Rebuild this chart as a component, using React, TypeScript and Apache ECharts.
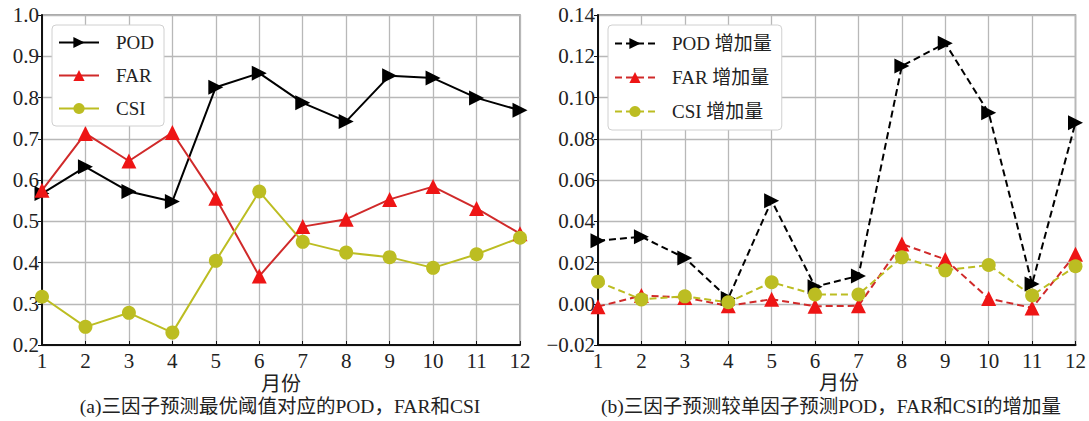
import React, { useEffect, useRef } from "react";
import * as echarts from "echarts";

const months = [1, 2, 3, 4, 5, 6, 7, 8, 9, 10, 11, 12];

const podA = [0.567, 0.632, 0.572, 0.548, 0.825, 0.859, 0.787, 0.742, 0.853, 0.847, 0.799, 0.769];
const farA = [0.575, 0.713, 0.646, 0.715, 0.556, 0.367, 0.487, 0.505, 0.553, 0.584, 0.531, 0.470];
const csiA = [0.317, 0.244, 0.278, 0.230, 0.404, 0.572, 0.450, 0.424, 0.413, 0.387, 0.420, 0.460];

const podB = [0.0306, 0.0325, 0.0222, 0.0026, 0.0500, 0.0083, 0.0135, 0.1153, 0.1263, 0.0926, 0.0096, 0.0878];
const farB = [-0.0014, 0.0040, 0.0030, -0.0010, 0.0022, -0.0012, -0.0010, 0.0290, 0.0215, 0.0025, -0.0020, 0.0240];
const csiB = [0.0107, 0.0021, 0.0036, 0.0007, 0.0104, 0.0045, 0.0045, 0.0225, 0.0162, 0.0188, 0.0040, 0.0182];

const namesA = ["POD", "FAR", "CSI"];
const namesB = ["POD 增加量", "FAR 增加量", "CSI 增加量"];

const yTicksA = { min: 0.2, max: 1.0, interval: 0.1, digits: 1 };
const yTicksB = { min: -0.02, max: 0.14, interval: 0.02, digits: 2 };

const xLabel = "月份";
const captionA = "(a)三因子预测最优阈值对应的POD，FAR和CSI";
const captionB = "(b)三因子预测较单因子预测POD，FAR和CSI的增加量";

const FONT = "'Liberation Serif', 'Noto Sans CJK SC', serif";
const BLACK = "#000000";
const RED_LINE = "#d02a2a";
const RED_MARK = "#ee1515";
const OLIVE = "#bcbd22";

const pairs = (vals: number[]) => vals.map((v, i) => [months[i], v]);

export default function App() {
  const ref = useRef<HTMLDivElement>(null);
  useEffect(() => {
    if (!ref.current) return;
    const chart = echarts.init(ref.current, null, { renderer: "svg" });

    const grids = [
      { left: 42, top: 15, width: 478, height: 330 },
      { left: 598, top: 15, width: 479, height: 330 },
    ];

    const mkX = (gi: number) => ({
      type: "value",
      gridIndex: gi,
      min: 1,
      max: 12,
      interval: 1,
      axisLine: { show: true, onZero: false, lineStyle: { color: "#111", width: 2 } },
      axisTick: { show: true, inside: true, length: 4, lineStyle: { color: "#111", width: 1 } },
      axisLabel: { color: "#222", fontSize: 21, fontFamily: FONT, margin: 5 },
      splitLine: { show: true, lineStyle: { color: "#b8b8b8", width: 1.3 } },
    });
    const mkY = (gi: number, t: typeof yTicksA) => ({
      type: "value",
      gridIndex: gi,
      min: t.min,
      max: t.max,
      interval: t.interval,
      axisLine: { show: true, onZero: false, lineStyle: { color: "#111", width: 2 } },
      axisTick: { show: true, inside: false, length: 4, lineStyle: { color: "#111", width: 1 } },
      axisLabel: {
        color: "#222",
        fontSize: 21,
        fontFamily: FONT,
        margin: 3,
        formatter: (v: number) => (v < 0 ? "−" : "") + Math.abs(v).toFixed(t.digits),
      },
      splitLine: { show: true, lineStyle: { color: "#b8b8b8", width: 1.3 } },
    });

    const mkSeries = (
      name: string,
      gi: number,
      vals: number[],
      lineColor: string,
      markColor: string,
      symbol: string,
      rotate: number,
      size: number,
      dashed: boolean
    ) => ({
      type: "line",
      name,
      xAxisIndex: gi,
      yAxisIndex: gi,
      data: pairs(vals),
      symbol,
      symbolRotate: rotate,
      symbolSize: size,
      showAllSymbol: true,
      lineStyle: { color: lineColor, width: 2, type: dashed ? [7, 4] : "solid" },
      itemStyle: { color: markColor, borderColor: markColor, borderWidth: 0 },
      z: 3,
    });

    const legendBase = {
      orient: "vertical",
      itemWidth: 40,
      itemHeight: 14,
      itemGap: 14,
      backgroundColor: "#ffffff",
      borderColor: "#d0d0d0",
      borderWidth: 1,
      borderRadius: 4,
      textStyle: { fontSize: 19, fontFamily: FONT, color: "#222", padding: [0, 0, 0, 12] },
    };

    chart.setOption({
      animation: false,
      backgroundColor: "#ffffff",
      grid: grids.map((g) => ({ ...g, show: true, borderColor: "#8a8a8a", borderWidth: 1.5, backgroundColor: "transparent" })),
      xAxis: [mkX(0), mkX(1)],
      yAxis: [mkY(0, yTicksA), mkY(1, yTicksB)],
      legend: [
        { ...legendBase, data: namesA, left: 52, top: 25, padding: [8, 10, 8, 6] },
        { ...legendBase, data: namesB, left: 608, top: 25, padding: [9, 10, 9, 6], itemGap: 15 },
      ],
      series: [
        mkSeries(namesA[0], 0, podA, BLACK, BLACK, "triangle", -90, 15, false),
        mkSeries(namesA[1], 0, farA, RED_LINE, RED_MARK, "triangle", 0, 15, false),
        mkSeries(namesA[2], 0, csiA, OLIVE, OLIVE, "circle", 0, 14, false),
        mkSeries(namesB[0], 1, podB, BLACK, BLACK, "triangle", -90, 15, true),
        mkSeries(namesB[1], 1, farB, RED_LINE, RED_MARK, "triangle", 0, 15, true),
        mkSeries(namesB[2], 1, csiB, OLIVE, OLIVE, "circle", 0, 14, true),
      ],
      graphic: [
        { type: "text", x: 281, y: 384, style: { text: xLabel, fontSize: 20, fontFamily: FONT, fill: "#222", align: "center", verticalAlign: "middle" } },
        { type: "text", x: 839, y: 383, style: { text: xLabel, fontSize: 20, fontFamily: FONT, fill: "#222", align: "center", verticalAlign: "middle" } },
        { type: "text", x: 280, y: 406, style: { text: captionA, fontSize: 19.5, fontFamily: FONT, fill: "#222", align: "center", verticalAlign: "middle" } },
        { type: "text", x: 831, y: 406, style: { text: captionB, fontSize: 19.5, fontFamily: FONT, fill: "#222", align: "center", verticalAlign: "middle" } },
      ],
    });
    return () => chart.dispose();
  }, []);
  return <div ref={ref} style={{ position: "fixed", left: 0, top: 0, width: 1089, height: 421 }} />;
}
